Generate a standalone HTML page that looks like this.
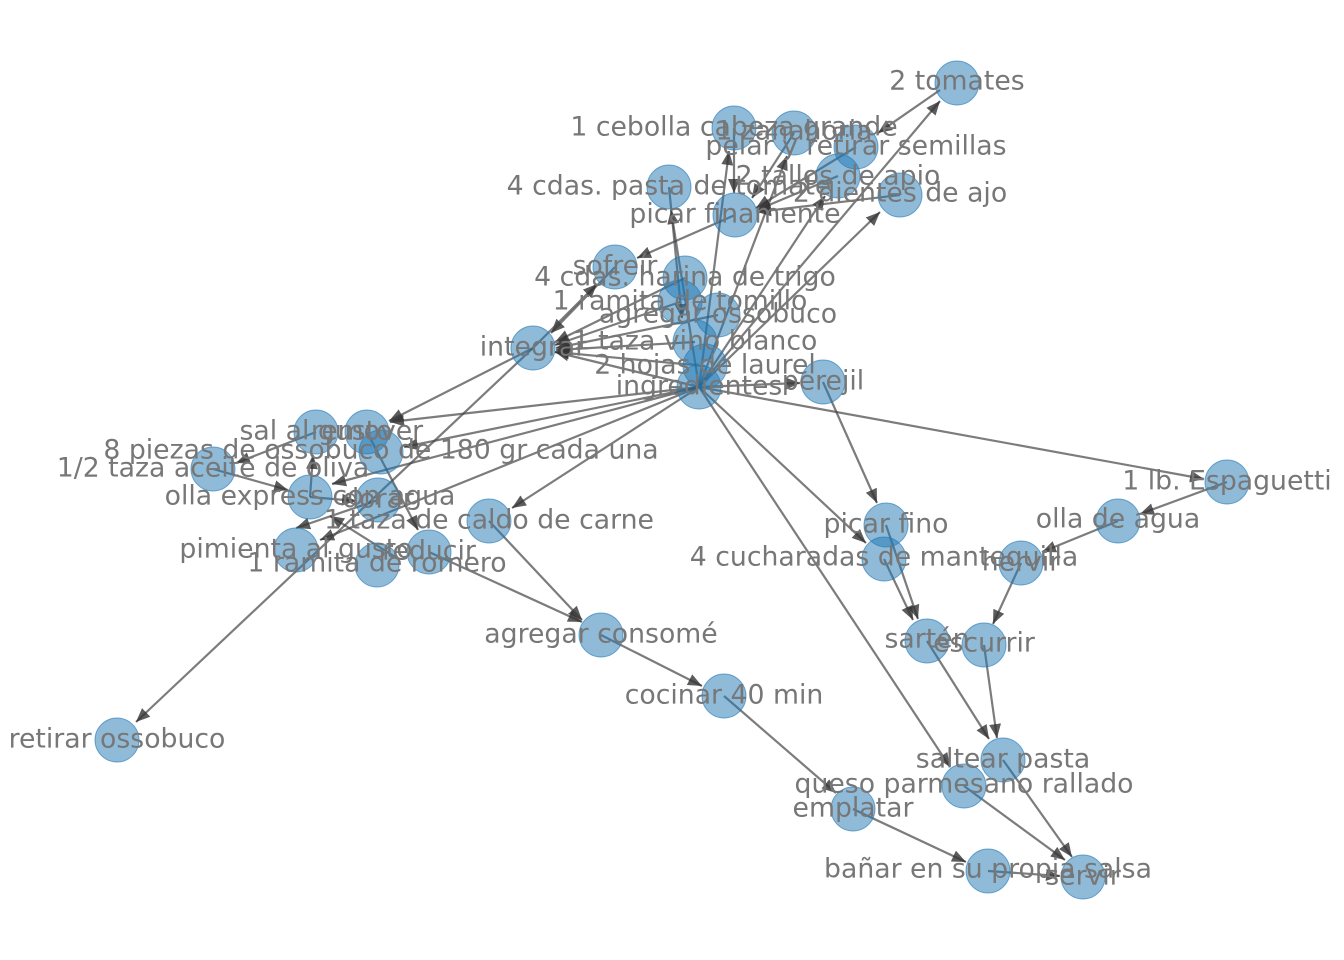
<!DOCTYPE html>
<html><head><meta charset="utf-8"><style>
html,body{margin:0;padding:0;background:#fff;}
svg{display:block}
text{font-family:"DejaVu Sans","Liberation Sans",sans-serif;font-size:26.7px;fill:#777;text-anchor:middle;dominant-baseline:central}
</style></head><body>
<svg width="1344" height="960" viewBox="0 0 1344 960" xmlns="http://www.w3.org/2000/svg">
<defs><marker id="a" viewBox="0 0 14 12" refX="14" refY="6" markerWidth="14" markerHeight="12" orient="auto" markerUnits="userSpaceOnUse"><path d="M0,0 L14,6 L0,12 z" fill="#333" fill-opacity="0.8"/></marker></defs>
<g stroke="#444" stroke-opacity="0.7" stroke-width="2.2" fill="none" marker-end="url(#a)">
<line x1="699" y1="387" x2="940" y2="101"/>
<line x1="699" y1="387" x2="880" y2="212"/>
<line x1="699" y1="387" x2="729" y2="151"/>
<line x1="699" y1="387" x2="787" y2="156"/>
<line x1="699" y1="387" x2="825" y2="196"/>
<line x1="699" y1="387" x2="671" y2="210"/>
<line x1="699" y1="387" x2="800" y2="383"/>
<line x1="699" y1="387" x2="1204" y2="479"/>
<line x1="699" y1="387" x2="866" y2="543"/>
<line x1="699" y1="387" x2="950" y2="767"/>
<line x1="699" y1="387" x2="512" y2="508"/>
<line x1="699" y1="387" x2="390" y2="422"/>
<line x1="699" y1="387" x2="404" y2="447"/>
<line x1="699" y1="387" x2="332" y2="484"/>
<line x1="699" y1="387" x2="320" y2="540"/>
<line x1="699" y1="387" x2="555" y2="352"/>
<line x1="940" y1="90" x2="878" y2="133"/>
<line x1="856" y1="147" x2="756" y2="208"/>
<line x1="734" y1="128" x2="734" y2="193"/>
<line x1="794" y1="133" x2="752" y2="198"/>
<line x1="838" y1="176" x2="757" y2="210"/>
<line x1="900" y1="195" x2="757" y2="212"/>
<line x1="735" y1="215" x2="637" y2="258"/>
<line x1="615" y1="267" x2="551" y2="333"/>
<line x1="533" y1="348" x2="597" y2="284"/>
<line x1="685" y1="278" x2="555" y2="342"/>
<line x1="680" y1="302" x2="555" y2="345"/>
<line x1="718" y1="315" x2="556" y2="348"/>
<line x1="695" y1="342" x2="556" y2="350"/>
<line x1="705" y1="366" x2="555" y2="352"/>
<line x1="669" y1="187" x2="682" y2="318"/>
<line x1="533" y1="348" x2="389" y2="421"/>
<line x1="533" y1="348" x2="136" y2="722"/>
<line x1="316" y1="432" x2="236" y2="463"/>
<line x1="213" y1="469" x2="288" y2="490"/>
<line x1="310" y1="497" x2="356" y2="501"/>
<line x1="367" y1="432" x2="418" y2="530"/>
<line x1="378" y1="500" x2="296" y2="528"/>
<line x1="310" y1="497" x2="313" y2="455"/>
<line x1="400" y1="560" x2="330" y2="516"/>
<line x1="429" y1="552" x2="582" y2="622"/>
<line x1="489" y1="521" x2="582" y2="620"/>
<line x1="601" y1="635" x2="702" y2="686"/>
<line x1="724" y1="696" x2="836" y2="793"/>
<line x1="853" y1="809" x2="966" y2="862"/>
<line x1="988" y1="871" x2="1060" y2="876"/>
<line x1="1003" y1="760" x2="1072" y2="857"/>
<line x1="964" y1="786" x2="1065" y2="860"/>
<line x1="823" y1="382" x2="877" y2="503"/>
<line x1="886" y1="525" x2="918" y2="619"/>
<line x1="884" y1="559" x2="913" y2="620"/>
<line x1="927" y1="641" x2="989" y2="739"/>
<line x1="984" y1="645" x2="997" y2="738"/>
<line x1="1021" y1="563" x2="993" y2="624"/>
<line x1="1118" y1="521" x2="1042" y2="552"/>
<line x1="1227" y1="482" x2="1140" y2="514"/>
</g>
<g fill="#1f77b4" fill-opacity="0.5" stroke="#1f77b4" stroke-opacity="0.6" stroke-width="1">
<circle cx="957" cy="83" r="22"/><circle cx="734" cy="128" r="22"/><circle cx="794" cy="133" r="22"/>
<circle cx="856" cy="147" r="22"/><circle cx="838" cy="176" r="22"/><circle cx="900" cy="195" r="22"/>
<circle cx="669" cy="187" r="22"/><circle cx="735" cy="215" r="22"/><circle cx="615" cy="267" r="22"/>
<circle cx="685" cy="278" r="22"/><circle cx="680" cy="302" r="22"/><circle cx="718" cy="315" r="22"/>
<circle cx="533" cy="348" r="22"/><circle cx="695" cy="342" r="22"/><circle cx="705" cy="366" r="22"/>
<circle cx="699" cy="387" r="22"/><circle cx="823" cy="382" r="22"/><circle cx="316" cy="432" r="22"/>
<circle cx="367" cy="432" r="22"/><circle cx="381" cy="452" r="22"/><circle cx="213" cy="469" r="22"/>
<circle cx="310" cy="497" r="22"/><circle cx="378" cy="500" r="22"/><circle cx="489" cy="521" r="22"/>
<circle cx="296" cy="550" r="22"/><circle cx="429" cy="552" r="22"/><circle cx="377" cy="565" r="22"/>
<circle cx="601" cy="635" r="22"/><circle cx="724" cy="696" r="22"/><circle cx="117" cy="740" r="22"/>
<circle cx="1227" cy="482" r="22"/><circle cx="1118" cy="521" r="22"/><circle cx="1021" cy="563" r="22"/>
<circle cx="886" cy="525" r="22"/><circle cx="884" cy="559" r="22"/><circle cx="927" cy="641" r="22"/>
<circle cx="984" cy="645" r="22"/><circle cx="1003" cy="760" r="22"/><circle cx="964" cy="786" r="22"/>
<circle cx="853" cy="809" r="22"/><circle cx="988" cy="871" r="22"/><circle cx="1083" cy="877" r="22"/>
</g>
<g>
<text x="957" y="81">2 tomates</text>
<text x="734" y="127">1 cebolla cabeza grande</text>
<text x="794" y="131">1 zanahoria</text>
<text x="856" y="146">pelar y retirar semillas</text>
<text x="838" y="176">2 tallos de apio</text>
<text x="900" y="193">2 dientes de ajo</text>
<text x="669" y="186">4 cdas. pasta de tomate</text>
<text x="735" y="214">picar finamente</text>
<text x="615" y="266">sofreír</text>
<text x="685" y="277">4 cdas. harina de trigo</text>
<text x="680" y="301">1 ramita de tomillo</text>
<text x="718" y="314">agregar ossobuco</text>
<text x="533" y="347">integrar</text>
<text x="695" y="341">1 taza vino blanco</text>
<text x="705" y="365">2 hojas de laurel</text>
<text x="699" y="386">ingredientes</text>
<text x="823" y="381">perejil</text>
<text x="316" y="431">sal al gusto</text>
<text x="367" y="431">remover</text>
<text x="381" y="450">8 piezas de ossobuco de 180 gr cada una</text>
<text x="213" y="468">1/2 taza aceite de oliva</text>
<text x="310" y="496">olla express con agua</text>
<text x="378" y="499">dorar</text>
<text x="489" y="520">1 taza de caldo de carne</text>
<text x="296" y="549">pimienta al gusto</text>
<text x="429" y="551">reducir</text>
<text x="377" y="563">1 ramita de romero</text>
<text x="601" y="634">agregar consomé</text>
<text x="724" y="695">cocinar 40 min</text>
<text x="117" y="739">retirar ossobuco</text>
<text x="1227" y="481">1 lb. Espaguetti</text>
<text x="1118" y="519">olla de agua</text>
<text x="1021" y="562">hervir</text>
<text x="886" y="524">picar fino</text>
<text x="884" y="557">4 cucharadas de mantequilla</text>
<text x="927" y="639">sartén</text>
<text x="984" y="643">escurrir</text>
<text x="1003" y="759">saltear pasta</text>
<text x="964" y="784">queso parmesano rallado</text>
<text x="853" y="808">emplatar</text>
<text x="988" y="869">bañar en su propia salsa</text>
<text x="1083" y="876">servir</text>
</g>
</svg>
</body></html>
